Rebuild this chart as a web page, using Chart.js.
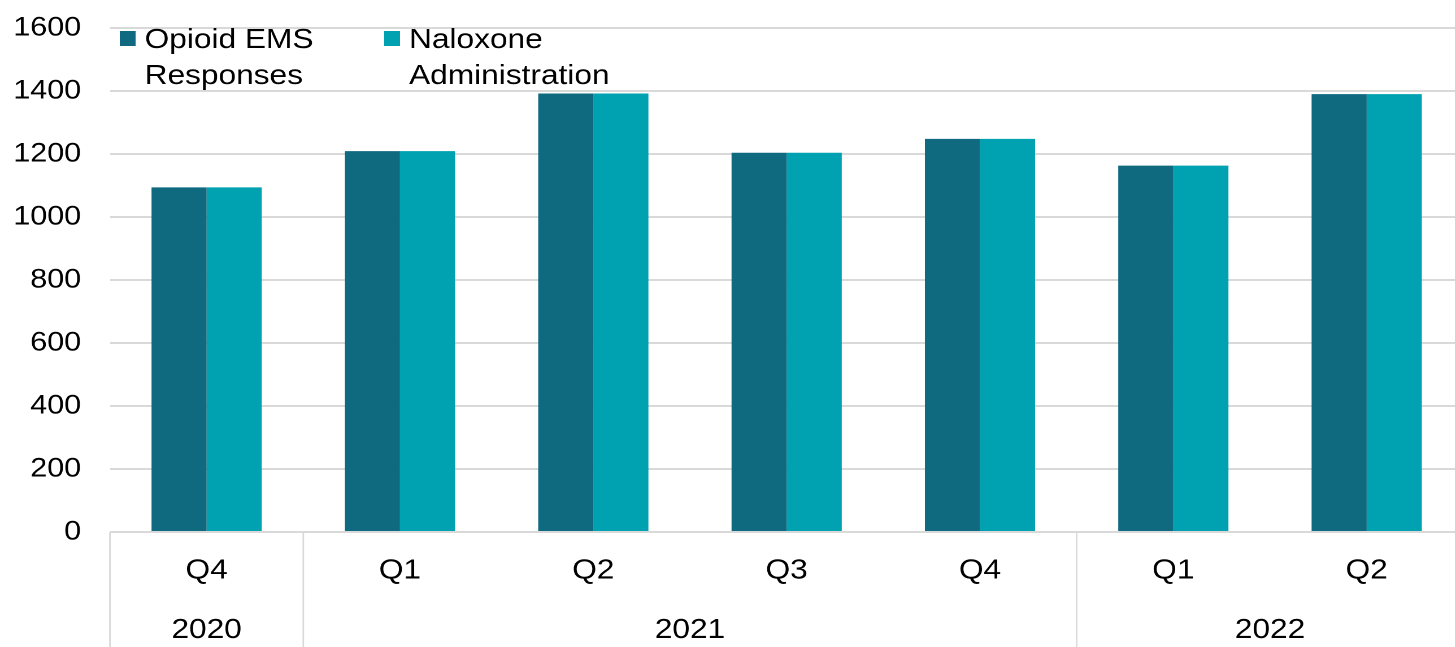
<!DOCTYPE html>
<html>
<head>
<meta charset="utf-8">
<script src="https://cdn.jsdelivr.net/npm/chart.js@4"></script>
<style>
html, body { margin: 0; padding: 0; background: #fff; overflow: hidden; }
/* the source picture is a bit stretched sideways, so the chart is too */
#wrap { width: 1295px; height: 647px; position: relative; transform: scaleX(1.13); transform-origin: 0 0; }
</style>
</head>
<body>
<div id="wrap"><canvas id="emsChart"></canvas></div>
<script>
// data
const quarters = ["Q4", "Q1", "Q2", "Q3", "Q4", "Q1", "Q2"];
const years = ["2020", "2021", "2022"];
const yearSpans = [1, 4, 2];
const opioidEms = [1094, 1209, 1392, 1204, 1248, 1163, 1390];
const naloxone = [1094, 1209, 1392, 1204, 1248, 1163, 1390];
const yTicks = [0, 200, 400, 600, 800, 1000, 1200, 1400, 1600];
const legendLines = [["Opioid EMS", "Responses"], ["Naloxone", "Administration"]];

const dark = "#0F6A80";
const teal = "#00A1B0";
const gridCol = "#D9D9D9";
const fontFam = "'Liberation Sans', Arial, sans-serif";

// legend + year row + separators
const extras = {
  id: "extras",
  afterDraw(chart) {
    const ctx = chart.ctx;
    const x = chart.scales.x;
    const area = chart.chartArea;
    const step = x.getPixelForValue(1) - x.getPixelForValue(0);
    const edge = i => x.getPixelForValue(0) - step / 2 + i * step;

    ctx.save();
    ctx.strokeStyle = gridCol;
    ctx.lineWidth = 1.4;
    let idx = 0;
    const bounds = [0];
    yearSpans.forEach(s => { idx += s; bounds.push(idx); });
    bounds.forEach(b => {
      const px = edge(b);
      ctx.beginPath();
      ctx.moveTo(px, area.bottom);
      ctx.lineTo(px, chart.height);
      ctx.stroke();
    });

    ctx.fillStyle = "#000";
    ctx.font = "28px " + fontFam;
    ctx.textAlign = "center";
    ctx.textBaseline = "alphabetic";
    years.forEach((yr, i) => {
      const mid = (edge(bounds[i]) + edge(bounds[i + 1])) / 2;
      ctx.fillText(yr, mid, 638);
    });

    // legend
    const items = chart.data.datasets.map((d, i) => ({ col: d.backgroundColor, lines: legendLines[i] }));
    const starts = [106, 340];
    ctx.textAlign = "left";
    items.forEach((it, i) => {
      ctx.fillStyle = it.col;
      ctx.fillRect(starts[i], 31, 14, 15);
      ctx.fillStyle = "#000";
      it.lines.forEach((t, j) => ctx.fillText(t, starts[i] + 22, 48 + j * 36));
    });
    ctx.restore();
  }
};

new Chart(document.getElementById("emsChart").getContext("2d"), {
  type: "bar",
  data: {
    labels: quarters,
    datasets: [
      { label: "Opioid EMS Responses", data: opioidEms, backgroundColor: dark },
      { label: "Naloxone Administration", data: naloxone, backgroundColor: teal }
    ]
  },
  options: {
    responsive: true,
    maintainAspectRatio: false,
    animation: false,
    devicePixelRatio: 2,
    layout: { padding: { top: 28, right: 0, left: 0, bottom: 0 } },
    categoryPercentage: 0.57,
    barPercentage: 1,
    plugins: {
      legend: { display: false },
      tooltip: { enabled: false }
    },
    scales: {
      x: {
        grid: { display: false, drawTicks: false },
        border: { display: false },
        ticks: { color: "#000", padding: 22, font: { family: fontFam, size: 28 } },
        afterFit(s) { s.height = 115; }
      },
      y: {
        min: 0,
        max: 1600,
        afterBuildTicks(s) { s.ticks = yTicks.map(v => ({ value: v })); },
        grid: { color: gridCol, lineWidth: 2, drawTicks: false },
        border: { display: false },
        ticks: {
          color: "#000",
          padding: 25.5,
          font: { family: fontFam, size: 27 },
          callback: v => String(v)
        },
        afterFit(s) { s.width = 97.3; s.paddingTop = 0; s.paddingBottom = 0; }
      }
    }
  },
  plugins: [extras]
});
</script>
</body>
</html>
